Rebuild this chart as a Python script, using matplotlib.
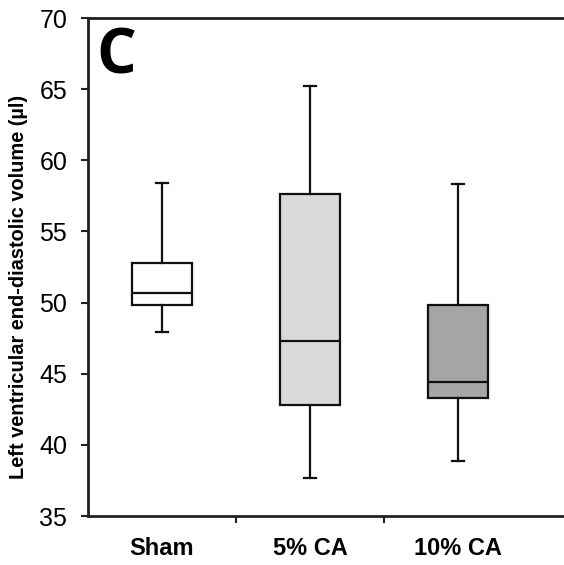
import matplotlib.pyplot as plt

# values (µl)
groups = ['Sham', '5% CA', '10% CA']
whisker_low = [47.9, 37.7, 38.9]
q1 = [49.8, 42.8, 43.3]
median = [50.65, 47.3, 44.45]
q3 = [52.75, 57.6, 49.8]
whisker_high = [58.4, 65.2, 58.35]
box_colors = ['#ffffff', '#d9d9d9', '#a6a6a6']

plt.rcParams['font.family'] = ['Liberation Sans', 'DejaVu Sans']

fig = plt.figure(figsize=(5.64, 5.65), dpi=100)
ax = fig.add_axes([88 / 564, 1 - 516 / 565, 1 - 88 / 564, (516 - 18) / 565])

stats = []
for i, g in enumerate(groups):
    stats.append({'label': g, 'whislo': whisker_low[i], 'q1': q1[i], 'med': median[i],
                  'q3': q3[i], 'whishi': whisker_high[i], 'fliers': []})

bp = ax.bxp(stats, positions=range(len(groups)), widths=0.4, patch_artist=True,
            showfliers=False, capwidths=0.075,
            boxprops=dict(linewidth=1.6, edgecolor='#111111'),
            medianprops=dict(linewidth=1.6, color='#111111'),
            whiskerprops=dict(linewidth=1.6, color='#111111'),
            capprops=dict(linewidth=1.6, color='#111111'))
for patch, c in zip(bp['boxes'], box_colors):
    patch.set_facecolor(c)

ax.set_xlim(-0.5, -0.5 + (564 - 88) / 148)
ax.set_ylim(35, 70)
ax.set_yticks(range(35, 71, 5))
ax.set_xticks(range(len(groups)))
ax.set_xticklabels(groups, fontsize=17, fontweight='bold')
ax.set_xticks([0.5, 1.5], minor=True)
ax.tick_params(axis='x', which='major', length=0, pad=15)
ax.tick_params(axis='x', which='minor', length=5, width=1.5, direction='out', color='#222222')
ax.tick_params(axis='y', length=5, width=1.5, direction='out', labelsize=18, color='#222222', pad=10)

ax.spines['right'].set_visible(False)
for s in ['left', 'top', 'bottom']:
    ax.spines[s].set_linewidth(2)
    ax.spines[s].set_color('#222222')

fig.text(18.5 / 564, 1 - 287 / 565, 'Left ventricular end-diastolic volume (µl)', rotation=90,
         ha='center', va='center', fontsize=14.4, fontweight='bold')
ax.text(0.018, 0.985, 'C', transform=ax.transAxes, fontsize=45, fontweight='bold',
        family=['Open Sans', 'DejaVu Sans'], va='top', ha='left')

fig.savefig('out.png', dpi=100)
